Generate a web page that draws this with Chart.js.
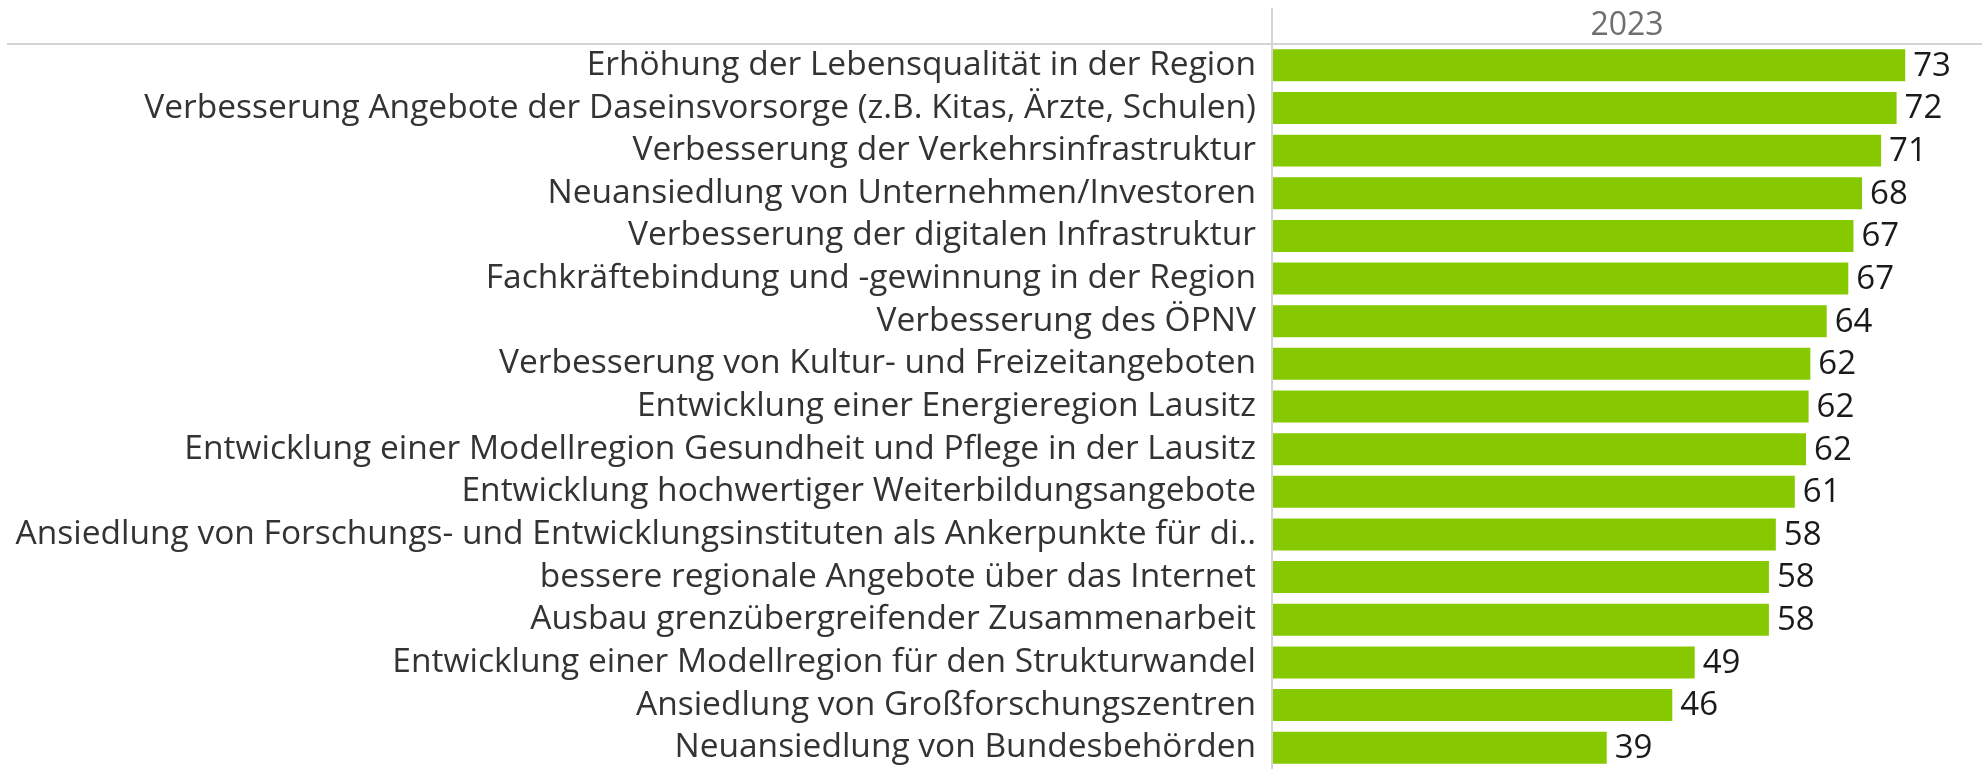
<!DOCTYPE html>
<html>
<head>
<meta charset="utf-8">
<script src="https://cdn.jsdelivr.net/npm/chart.js@4"></script>
<style>
  html, body { margin: 0; padding: 0; background: #ffffff; }
  #wrap { width: 1982px; height: 769px; }
</style>
</head>
<body>
<div id="wrap"><canvas id="chart" width="1982" height="769"></canvas></div>
<script>
// Categories (top to bottom)
const categories = [
    'Erhöhung der Lebensqualität in der Region',
    'Verbesserung Angebote der Daseinsvorsorge (z.B. Kitas, Ärzte, Schulen)',
    'Verbesserung der Verkehrsinfrastruktur',
    'Neuansiedlung von Unternehmen/Investoren',
    'Verbesserung der digitalen Infrastruktur',
    'Fachkräftebindung und -gewinnung in der Region',
    'Verbesserung des ÖPNV',
    'Verbesserung von Kultur- und Freizeitangeboten',
    'Entwicklung einer Energieregion Lausitz',
    'Entwicklung einer Modellregion Gesundheit und Pflege in der Lausitz',
    'Entwicklung hochwertiger Weiterbildungsangebote',
    'Ansiedlung von Forschungs- und Entwicklungsinstituten als Ankerpunkte für di..',
    'bessere regionale Angebote über das Internet',
    'Ausbau grenzübergreifender Zusammenarbeit',
    'Entwicklung einer Modellregion für den Strukturwandel',
    'Ansiedlung von Großforschungszentren',
    'Neuansiedlung von Bundesbehörden'
];

// 2023 values (bar lengths, labels show rounded)
const values2023 = [73.4, 72.4, 70.6, 68.4, 67.4, 66.8, 64.3, 62.4, 62.2, 61.9, 60.6, 58.4, 57.6, 57.6, 49.0, 46.4, 38.8];

const columnHeader = '2023';

const FONT_FAMILY = '"Open Sans", "Noto Sans", sans-serif';
const LINE_COLOR = '#d4d4d4';

// header lines + column divider
const frameLines = {
    id: 'frameLines',
    afterDraw(chart) {
        const ctx = chart.ctx;
        const area = chart.chartArea;
        ctx.save();
        ctx.strokeStyle = LINE_COLOR;
        ctx.lineWidth = 2;
        ctx.beginPath();
        ctx.moveTo(7, area.top);
        ctx.lineTo(chart.width, area.top);
        ctx.moveTo(area.left, 8);
        ctx.lineTo(area.left, chart.height);
        ctx.stroke();
        ctx.restore();
    }
};

// value labels at the end of each bar
const valueLabels = {
    id: 'valueLabels',
    afterDatasetsDraw(chart) {
        const ctx = chart.ctx;
        const meta = chart.getDatasetMeta(0);
        ctx.save();
        ctx.font = '33px ' + FONT_FAMILY;
        ctx.fillStyle = '#1a1a1a';
        ctx.textAlign = 'left';
        ctx.textBaseline = 'middle';
        meta.data.forEach((bar, i) => {
            ctx.fillText(String(Math.round(values2023[i])), bar.x + 8, bar.y + 1);
        });
        ctx.restore();
    }
};

const ctx = document.getElementById('chart').getContext('2d');
const chart = new Chart(ctx, {
    type: 'bar',
    data: {
        labels: categories,
        datasets: [{
            data: values2023,
            backgroundColor: '#87c900',
            borderWidth: 0,
            categoryPercentage: 1.0,
            barPercentage: 0.75
        }]
    },
    options: {
        indexAxis: 'y',
        responsive: false,
        animation: false,
        layout: { padding: 0 },
        plugins: {
            legend: { display: false },
            tooltip: { enabled: false }
        },
        scales: {
            x: {
                position: 'top',
                min: 0,
                max: 82.3,
                grid: { display: false },
                border: { display: false },
                ticks: { display: false },
                title: {
                    display: true,
                    text: columnHeader,
                    color: '#6e6e6e',
                    font: { family: FONT_FAMILY, size: 32 },
                    padding: { top: 7, bottom: 0 }
                },
                afterFit(scale) { scale.height = 44; }
            },
            y: {
                grid: { display: false },
                border: { display: false },
                ticks: {
                    color: '#333333',
                    padding: 8,
                    autoSkip: false,
                    font: { family: FONT_FAMILY, size: 33.5 }
                },
                afterFit(scale) {
                    scale.width = 1272;
                    // rows fill the whole height down to the bottom edge
                    scale.paddingTop = 0;
                    scale.paddingBottom = 0;
                }
            }
        }
    },
    plugins: [frameLines, valueLabels]
});
</script>
</body>
</html>
